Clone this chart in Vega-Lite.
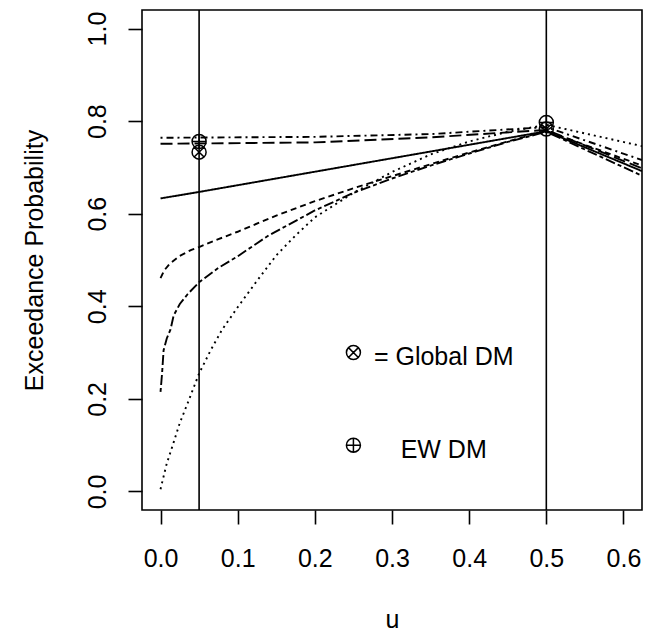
{
  "$schema": "https://vega.github.io/schema/vega-lite/v6.json",
  "width": 500,
  "height": 500,
  "autosize": {"type": "none"},
  "padding": {"left": 142, "top": 10, "right": 8, "bottom": 121},
  "background": "white",
  "config": {
    "view": {"stroke": "black", "strokeWidth": 1.6},
    "font": "Liberation Sans",
    "axis": {
      "domain": false,
      "grid": false,
      "ticks": true,
      "tickColor": "black",
      "tickWidth": 1.6,
      "tickSize": 14,
      "labelColor": "black",
      "labelFont": "Liberation Sans",
      "labelFontSize": 25,
      "titleFont": "Liberation Sans",
      "titleFontSize": 25,
      "titleFontWeight": "normal",
      "titleColor": "black"
    }
  },
  "datasets": {
    "curves": [
      {"s": "solid", "u": 0.0, "p": 0.633},
      {"s": "solid", "u": 0.05, "p": 0.647},
      {"s": "solid", "u": 0.5, "p": 0.778},
      {"s": "solid", "u": 0.624, "p": 0.692},

      {"s": "dashed", "u": 0.0, "p": 0.461},
      {"s": "dashed", "u": 0.005, "p": 0.478},
      {"s": "dashed", "u": 0.012, "p": 0.492},
      {"s": "dashed", "u": 0.025, "p": 0.509},
      {"s": "dashed", "u": 0.04, "p": 0.522},
      {"s": "dashed", "u": 0.05, "p": 0.528},
      {"s": "dashed", "u": 0.075, "p": 0.545},
      {"s": "dashed", "u": 0.1, "p": 0.561},
      {"s": "dashed", "u": 0.15, "p": 0.596},
      {"s": "dashed", "u": 0.2, "p": 0.627},
      {"s": "dashed", "u": 0.25, "p": 0.655},
      {"s": "dashed", "u": 0.3, "p": 0.681},
      {"s": "dashed", "u": 0.35, "p": 0.707},
      {"s": "dashed", "u": 0.4, "p": 0.732},
      {"s": "dashed", "u": 0.45, "p": 0.756},
      {"s": "dashed", "u": 0.5, "p": 0.779},
      {"s": "dashed", "u": 0.624, "p": 0.704},

      {"s": "twodash", "u": 0.0, "p": 0.215},
      {"s": "twodash", "u": 0.002, "p": 0.255},
      {"s": "twodash", "u": 0.004, "p": 0.305},
      {"s": "twodash", "u": 0.008, "p": 0.33},
      {"s": "twodash", "u": 0.013, "p": 0.35},
      {"s": "twodash", "u": 0.017, "p": 0.38},
      {"s": "twodash", "u": 0.025, "p": 0.405},
      {"s": "twodash", "u": 0.035, "p": 0.426},
      {"s": "twodash", "u": 0.05, "p": 0.452},
      {"s": "twodash", "u": 0.075, "p": 0.483},
      {"s": "twodash", "u": 0.1, "p": 0.508},
      {"s": "twodash", "u": 0.14, "p": 0.553},
      {"s": "twodash", "u": 0.2, "p": 0.607},
      {"s": "twodash", "u": 0.25, "p": 0.645},
      {"s": "twodash", "u": 0.3, "p": 0.676},
      {"s": "twodash", "u": 0.35, "p": 0.704},
      {"s": "twodash", "u": 0.4, "p": 0.73},
      {"s": "twodash", "u": 0.45, "p": 0.755},
      {"s": "twodash", "u": 0.5, "p": 0.777},
      {"s": "twodash", "u": 0.624, "p": 0.682},

      {"s": "dotted", "u": 0.0, "p": 0.005},
      {"s": "dotted", "u": 0.008, "p": 0.06},
      {"s": "dotted", "u": 0.017, "p": 0.106},
      {"s": "dotted", "u": 0.025, "p": 0.148},
      {"s": "dotted", "u": 0.035, "p": 0.19},
      {"s": "dotted", "u": 0.05, "p": 0.255},
      {"s": "dotted", "u": 0.065, "p": 0.305},
      {"s": "dotted", "u": 0.08, "p": 0.35},
      {"s": "dotted", "u": 0.1, "p": 0.398},
      {"s": "dotted", "u": 0.125, "p": 0.455},
      {"s": "dotted", "u": 0.15, "p": 0.51},
      {"s": "dotted", "u": 0.175, "p": 0.553},
      {"s": "dotted", "u": 0.2, "p": 0.592},
      {"s": "dotted", "u": 0.25, "p": 0.645},
      {"s": "dotted", "u": 0.3, "p": 0.69},
      {"s": "dotted", "u": 0.35, "p": 0.728},
      {"s": "dotted", "u": 0.4, "p": 0.756},
      {"s": "dotted", "u": 0.45, "p": 0.777},
      {"s": "dotted", "u": 0.5, "p": 0.792},
      {"s": "dotted", "u": 0.624, "p": 0.746},

      {"s": "dotdash", "u": 0.0, "p": 0.764},
      {"s": "dotdash", "u": 0.2, "p": 0.766},
      {"s": "dotdash", "u": 0.35, "p": 0.772},
      {"s": "dotdash", "u": 0.5, "p": 0.787},
      {"s": "dotdash", "u": 0.624, "p": 0.716},

      {"s": "longdash", "u": 0.0, "p": 0.751},
      {"s": "longdash", "u": 0.2, "p": 0.754},
      {"s": "longdash", "u": 0.35, "p": 0.765},
      {"s": "longdash", "u": 0.5, "p": 0.781},
      {"s": "longdash", "u": 0.624, "p": 0.698}
    ],
    "vlines": [{"u": 0.05}, {"u": 0.5}],
    "markers": [
      {"dm": "EW", "u": 0.05, "p": 0.756},
      {"dm": "EW", "u": 0.5, "p": 0.797},
      {"dm": "EW", "u": 0.25, "p": 0.1},
      {"dm": "Global", "u": 0.05, "p": 0.733},
      {"dm": "Global", "u": 0.5, "p": 0.783},
      {"dm": "Global", "u": 0.25, "p": 0.3}
    ],
    "labels": [
      {"u": 0.367, "p": 0.29, "label": "= Global DM"},
      {"u": 0.367, "p": 0.09, "label": "EW DM"}
    ]
  },
  "layer": [
    {
      "data": {"name": "curves"},
      "mark": {"type": "line", "clip": true, "color": "black", "strokeWidth": 1.9},
      "encoding": {
        "x": {
          "field": "u", "type": "quantitative",
          "scale": {"domain": [-0.024, 0.624], "nice": false, "zero": false},
          "axis": {"values": [0, 0.1, 0.2, 0.3, 0.4, 0.5, 0.6], "format": ".1f", "title": "u", "labelPadding": 22, "titlePadding": 36, "labelFlush": false}
        },
        "y": {
          "field": "p", "type": "quantitative",
          "scale": {"domain": [-0.04, 1.04], "nice": false, "zero": false},
          "axis": {"values": [0, 0.2, 0.4, 0.6, 0.8, 1.0], "format": ".1f", "title": "Exceedance Probability", "labelAngle": -90, "labelAlign": "center", "labelBaseline": "bottom", "labelPadding": 18, "titlePadding": 38, "labelFlush": false}
        },
        "detail": {"field": "s"},
        "strokeDash": {
          "field": "s", "type": "nominal", "legend": null,
          "scale": {
            "domain": ["solid", "dashed", "dotted", "dotdash", "longdash", "twodash"],
            "range": [[1, 0], [6, 4], [2, 4], [2, 4, 7, 4], [12, 5], [4, 3, 10, 3]]
          }
        }
      }
    },
    {
      "data": {"name": "vlines"},
      "mark": {"type": "rule", "color": "black", "strokeWidth": 1.6},
      "encoding": {"x": {"field": "u", "type": "quantitative"}}
    },
    {
      "data": {"name": "markers"},
      "mark": {"type": "point", "filled": false, "stroke": "black", "strokeWidth": 1.5, "opacity": 1},
      "encoding": {
        "x": {"field": "u", "type": "quantitative"},
        "y": {"field": "p", "type": "quantitative"},
        "shape": {
          "field": "dm", "type": "nominal", "legend": null,
          "scale": {
            "domain": ["EW", "Global"],
            "range": [
              "M-1,0A1,1 0 1,1 1,0A1,1 0 1,1 -1,0ZM-1,0L1,0M0,-1L0,1",
              "M-1,0A1,1 0 1,1 1,0A1,1 0 1,1 -1,0ZM-0.707,-0.707L0.707,0.707M-0.707,0.707L0.707,-0.707"
            ]
          }
        },
        "size": {"value": 196}
      }
    },
    {
      "data": {"name": "labels"},
      "mark": {"type": "text", "font": "Liberation Sans", "fontSize": 25, "align": "center", "baseline": "middle", "color": "black"},
      "encoding": {
        "x": {"field": "u", "type": "quantitative"},
        "y": {"field": "p", "type": "quantitative"},
        "text": {"field": "label"}
      }
    }
  ]
}
